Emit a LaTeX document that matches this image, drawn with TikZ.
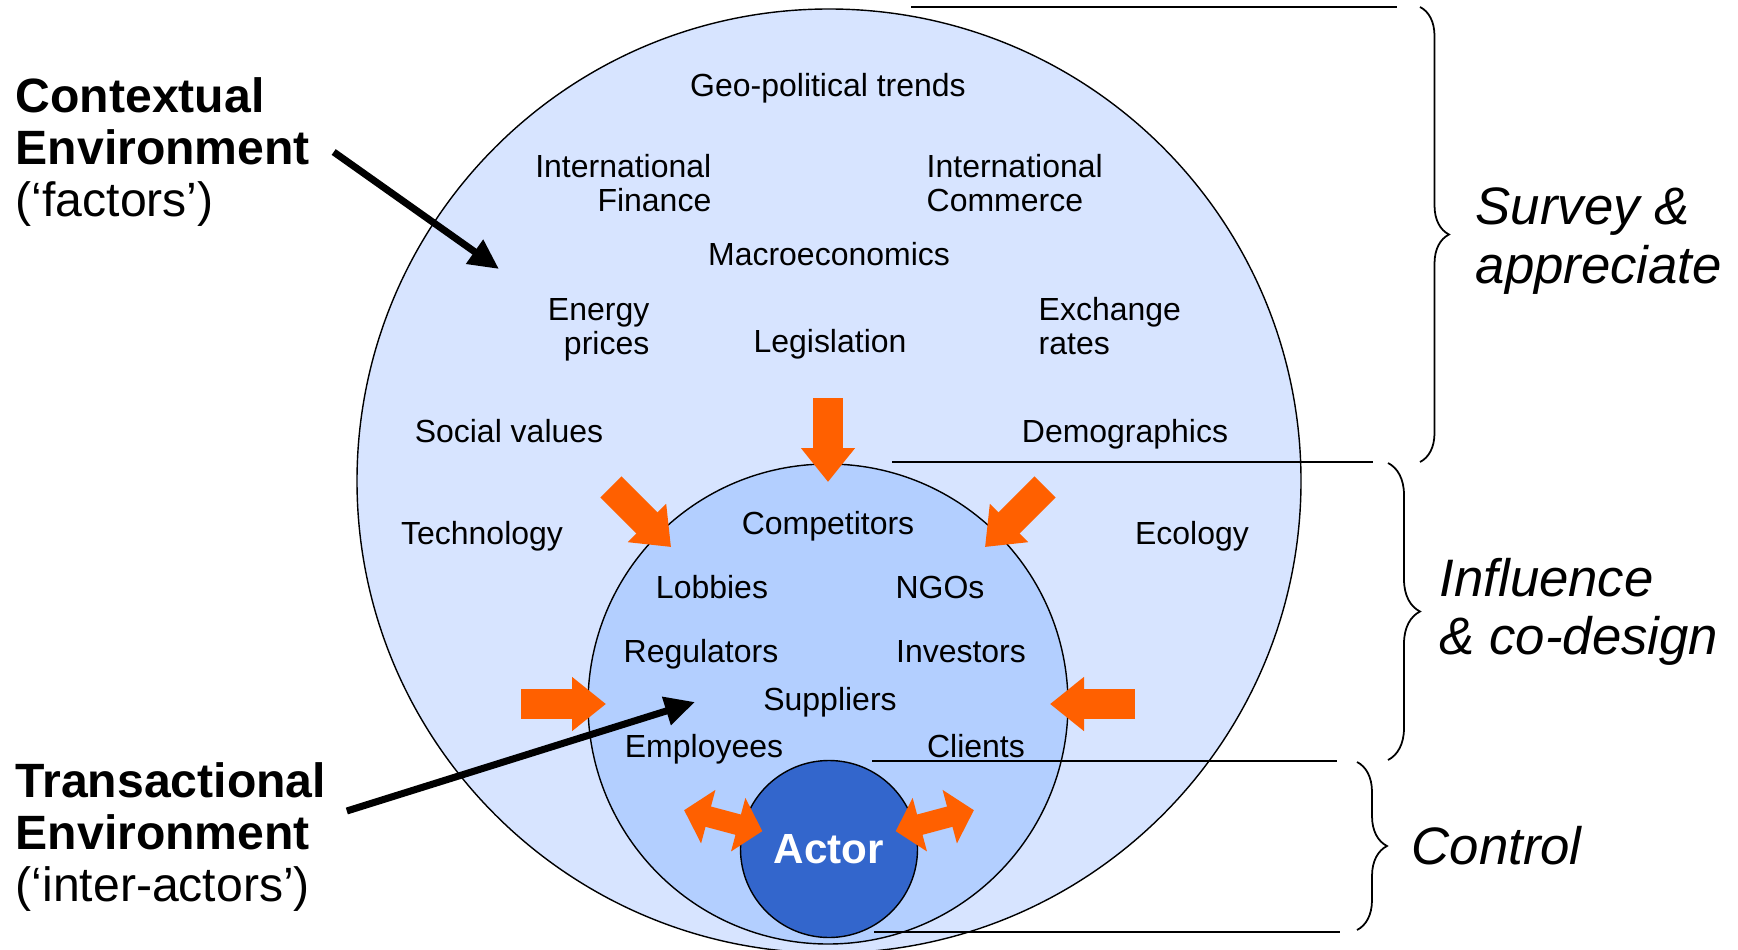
\documentclass[tikz,border=0pt]{standalone}
\usepackage{fontspec}
\setmainfont{Liberation Sans}
\usepackage{tikz}
\usetikzlibrary{positioning,calc,arrows.meta,decorations.pathreplacing}
\definecolor{outerblue}{HTML}{D7E4FF}
\definecolor{innerblue}{HTML}{B3CFFF}
\definecolor{actorblue}{HTML}{3366CC}
\definecolor{pushorange}{HTML}{FF6000}

\begin{document}
\begin{tikzpicture}[
    factor/.style={inner sep=0pt, font=\fontsize{9.1}{9.8}\selectfont},
    ring/.style={draw, circle, line width=0.4pt, inner sep=0pt},
    push/.style={pushorange, line width=0.3cm, -{Triangle[length=0.34cm,width=0.52cm]}},
    twoway/.style={pushorange, line width=0.21cm, {Triangle[length=0.25cm,width=0.54cm]}-{Triangle[length=0.25cm,width=0.54cm]}},
    pointer/.style={line width=2pt, -{Triangle[length=0.3cm,width=0.28cm]}},
    envlabel/.style={inner sep=0pt, align=left, font=\fontsize{13.7}{14.9}\selectfont},
    sidelabel/.style={inner sep=0pt, align=left, font=\fontsize{15}{16.6}\selectfont\itshape},
    curly/.style={decorate, decoration={brace, amplitude=#1}, line width=0.5pt}
]
    \useasboundingbox (0,0) rectangle (17.38,9.49);
    % the three environments
    \node[ring, fill=outerblue, minimum size=9.44cm](ctxc) at (8.29,4.68){};
    \node[ring, fill=innerblue, minimum size=4.8cm](trac) at (8.28,2.45){};
    \node[ring, fill=actorblue, minimum size=1.77cm, text=white, font=\fontsize{12}{14}\selectfont\bfseries](actor) at (8.29,1.0){Actor};
    % factors
    \node[factor, anchor=base](geo) at (8.28,8.52){Geo-political trends};
    \node[factor, align=right, anchor=east](intfin) at (7.12,7.66){International\\Finance};
    \node[factor, align=left, anchor=west](intcom) at (9.26,7.66){International\\Commerce};
    \node[factor, anchor=base](macro) at (8.29,6.83){Macroeconomics};
    \node[factor, align=right, anchor=east](energy) at (6.50,6.19){Energy\\prices};
    \node[factor, align=left, anchor=west](exch) at (10.38,6.23){Exchange\\rates};
    \node[factor, anchor=base](legis) at (8.30,5.97){Legislation};
    \node[factor, anchor=base](social) at (5.09,5.07){Social values};
    \node[factor, anchor=base](demo) at (11.25,5.07){Demographics};
    \node[factor, anchor=base](tech) at (4.82,4.05){Technology};
    \node[factor, anchor=base](eco) at (11.92,4.05){Ecology};
    % inter-actors
    \node[factor, anchor=base](comp) at (8.28,4.15){Competitors};
    \node[factor, anchor=base](lobb) at (7.12,3.51){Lobbies};
    \node[factor, anchor=base](ngo) at (9.40,3.51){NGOs};
    \node[factor, anchor=base](regu) at (7.01,2.87){Regulators};
    \node[factor, anchor=base](inve) at (9.61,2.87){Investors};
    \node[factor, anchor=base](supp) at (8.30,2.39){Suppliers};
    \node[factor, anchor=base](empl) at (7.04,1.92){Employees};
    \node[factor, anchor=base](clie) at (9.76,1.92){Clients};
    % pressure on the transactional environment
    \draw[push]($(trac)+(90:3.06)$)--($(trac)+(90:2.22)$);
    \draw[push]($(trac)+(135:3.07)$)--($(trac)+(135:2.22)$);
    \draw[push]($(trac)+(45:3.07)$)--($(trac)+(45:2.22)$);
    \draw[push]($(trac)+(180:3.07)$)--($(trac)+(180:2.22)$);
    \draw[push]($(trac)+(0:3.07)$)--($(trac)+(0:2.22)$);
    \draw[twoway]($(actor)+(165:1.5)$)--($(actor)+(165:0.69)$);
    \draw[twoway]($(actor)+(15:0.69)$)--($(actor)+(15:1.5)$);
    % labels on the left
    \node[envlabel, anchor=west](ctx) at (0.15,7.97){\textbf{Contextual}\\\textbf{Environment}\\(‘factors’)};
    \node[envlabel, anchor=west](tra) at (0.15,1.12){\textbf{Transactional}\\\textbf{Environment}\\(‘inter-actors’)};
    \coordinate(ctxtip) at (4.99,6.80);
    \coordinate(tratip) at (6.95,2.47);
    \draw[pointer]([xshift=2.3mm]ctx.east)--(ctxtip);
    \draw[pointer]([shift={(0.2,0.26)}]tra.east)--(tratip);
    % levels on the right
    \draw(9.11,9.42)--(13.97,9.42);
    \draw(8.92,4.87)--(13.73,4.87);
    \draw(8.72,1.88)--(13.37,1.88);
    \draw(8.74,0.17)--(13.40,0.17);
    \draw[curly=0.29cm](14.20,9.42)--(14.20,4.87);
    \draw[curly=0.32cm](13.88,4.86)--(13.88,1.89);
    \draw[curly=0.30cm](13.57,1.87)--(13.57,0.19);
    \node[sidelabel, anchor=west](survey) at (14.75,7.08){Survey \&\\appreciate};
    \node[sidelabel, anchor=west](influ) at (14.39,3.37){Influence\\\& co-design};
    \node[sidelabel, anchor=base west](ctrl) at (14.11,0.85){Control};
\end{tikzpicture}
\end{document}
